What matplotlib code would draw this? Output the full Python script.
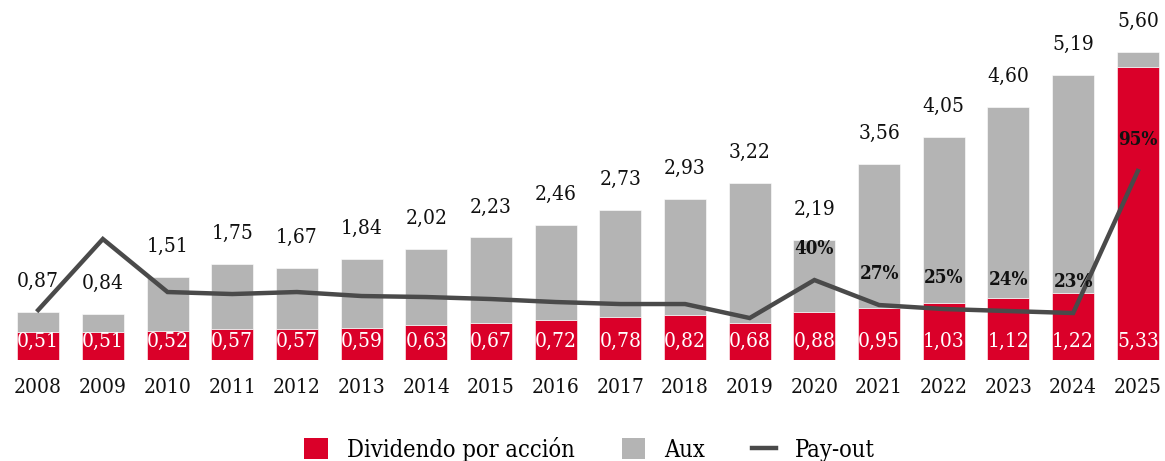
import numpy as np
import matplotlib
matplotlib.use("Agg")
import matplotlib.pyplot as plt
from matplotlib import font_manager
from matplotlib.patches import Patch
from matplotlib.lines import Line2D

years = ["2008", "2009", "2010", "2011", "2012", "2013", "2014", "2015", "2016",
         "2017", "2018", "2019", "2020", "2021", "2022", "2023", "2024", "2025"]
dividendo = [0.51, 0.51, 0.52, 0.57, 0.57, 0.59, 0.63, 0.67, 0.72,
             0.78, 0.82, 0.68, 0.88, 0.95, 1.03, 1.12, 1.22, 5.33]
total = [0.87, 0.84, 1.51, 1.75, 1.67, 1.84, 2.02, 2.23, 2.46,
         2.73, 2.93, 3.22, 2.19, 3.56, 4.05, 4.60, 5.19, 5.60]
payout = [25, 60.5, 34, 33, 34, 32, 31.5, 30.5, 29,
          28, 28, 21, 40, 27.5, 25.5, 24.5, 23.5, 94.5]
payout_labels = {12: "40%", 13: "27%", 14: "25%", 15: "24%", 16: "23%", 17: "95%"}

aux = [t - d for t, d in zip(total, dividendo)]

RED = "#DA0029"
GREY = "#B4B4B4"
LINE = "#4A4A4A"

names = set(f.name for f in font_manager.fontManager.ttflist)
FONT = "DejaVu Serif Condensed" if "DejaVu Serif Condensed" in names else "DejaVu Serif"

def fmt(v):
    return ("%.2f" % v).replace(".", ",")

fig = plt.figure(figsize=(11.65, 4.61), dpi=100)
ax = fig.add_axes([0.0, 0.219, 1.0, 0.781])
x = np.arange(len(years))
w = 0.65

ax.bar(x, dividendo, w, color=RED, edgecolor="white", linewidth=0.4, zorder=2)
ax.bar(x, aux, w, bottom=dividendo, color=GREY, edgecolor="white", linewidth=0.4, zorder=2)

for i in range(len(years)):
    ax.text(x[i], 0.34, fmt(dividendo[i]), ha="center", va="center",
            color="white", fontsize=15, family=FONT, stretch="condensed", zorder=4)
    ax.annotate(fmt(total[i]), (x[i], total[i]), xytext=(0, 22), textcoords="offset points",
                ha="center", va="center", fontsize=15, family=FONT, stretch="condensed",
                color="#111111")

ax.set_xlim(-0.59, 17.42)
ax.set_ylim(0, 6.55)
ax.set_xticks(x)
ax.set_xticklabels(years, fontsize=15, family=FONT, stretch="condensed", color="#111111")
ax.tick_params(axis="x", length=0, pad=13)
ax.set_yticks([])
for s in ax.spines.values():
    s.set_visible(False)

ax2 = ax.twinx()
ax2.plot(x, payout, color=LINE, linewidth=3.2, solid_joinstyle="miter", zorder=3)
ax2.set_ylim(0, 180)
ax2.set_yticks([])
for s in ax2.spines.values():
    s.set_visible(False)
for i, lab in payout_labels.items():
    ax2.annotate(lab, (x[i], payout[i]), xytext=(0, 22), textcoords="offset points",
                 ha="center", va="center", fontsize=13.5, family=FONT, stretch="condensed",
                 fontweight="bold", color="#111111")

handles = [Patch(facecolor=RED, edgecolor="none"),
           Patch(facecolor=GREY, edgecolor="none"),
           Line2D([0], [0], color=LINE, linewidth=3.2)]
fig.legend(handles, ["Dividendo por acción", "Aux", "Pay-out"],
           loc="center", bbox_to_anchor=(0.506, 0.025), ncol=3, frameon=False,
           prop={"family": FONT, "size": 17, "stretch": "condensed"},
           handlelength=1.0, handleheight=1.0, columnspacing=2.0, handletextpad=0.8)

fig.savefig("out.png", dpi=100)
